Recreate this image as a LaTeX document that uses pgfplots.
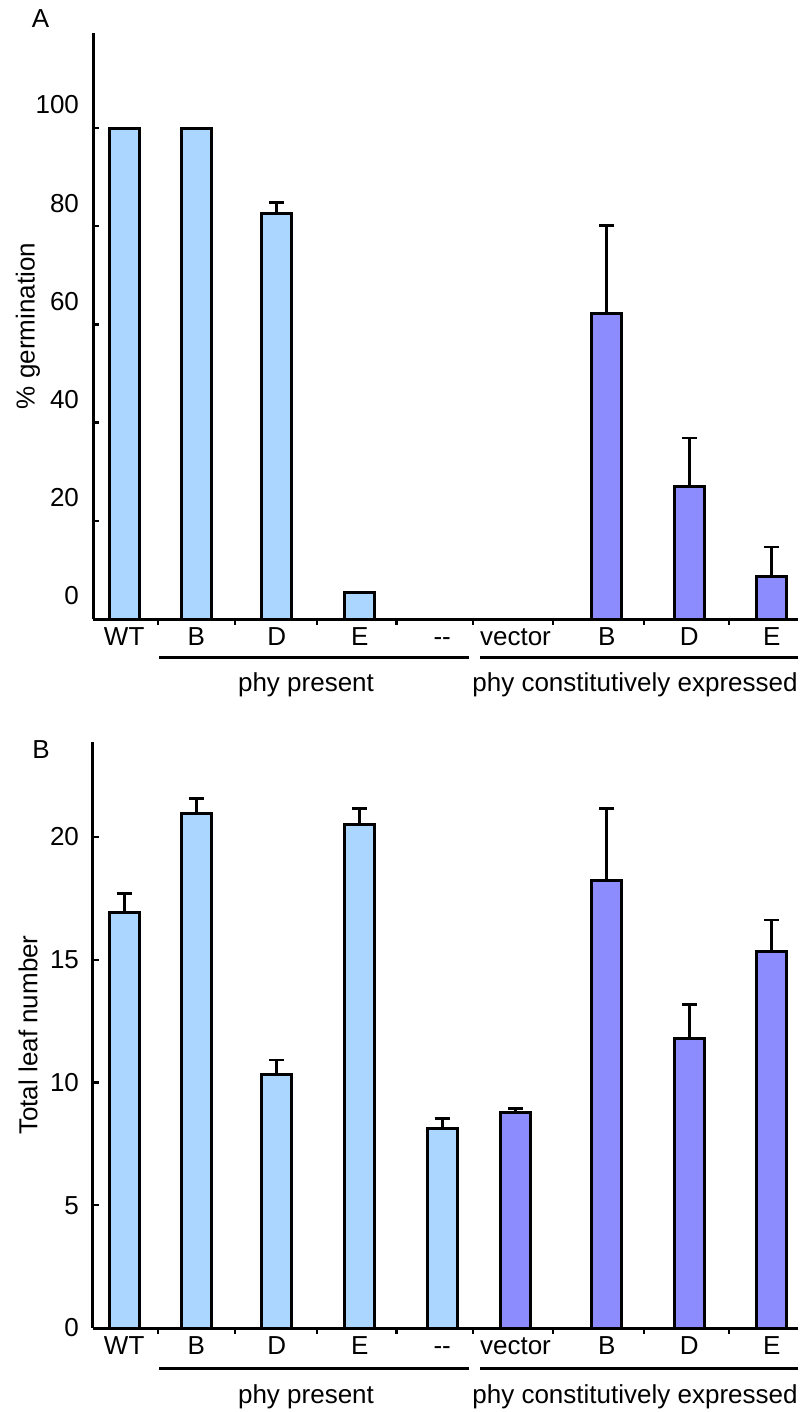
\documentclass[border=0pt]{standalone}
\usepackage{pgfplots}
\pgfplotsset{compat=1.18}
\usepackage{pgfplotstable}
\usepackage{fontspec}
\setmainfont{Liberation Sans}
\definecolor{lb}{RGB}{170,214,255}
\definecolor{pu}{RGB}{140,140,255}

% Panel A
\pgfplotstableread{
x y
124.2 100
196.3 100
359.7 5.4
}\AL
\pgfplotstableread{
x y e
276.7 82.5 2.3
}\ALE
\pgfplotstableread{
x y e
606.7 62.3 17.8
689.3 26.9 10.0
771.7 8.6 6.1
}\APE
% Panel B
\pgfplotstableread{
x y e
124.2 16.92 0.79
196.3 20.97 0.61
276.7 10.33 0.59
359.7 20.49 0.68
442.2 8.13 0.41
}\BLE
\pgfplotstableread{
x y e
515.5 8.77 0.18
606.7 18.22 2.95
689.3 11.80 1.38
771.7 15.33 1.29
}\BPE

\newcommand\fs{\fontsize{13}{15.6}\selectfont}

\pgfplotsset{
 base/.style={
  scale only axis, width=352.5pt, height=293pt,
  xmin=93, xmax=798, ymin=0,
  axis x line*=bottom, axis y line*=left,
  axis line style={-, line width=1.5pt, black},
  clip=false,
  ybar, bar width=30, bar shift=0pt,
  xtick={158,235,317,396.5,473,553,644,729},
  xticklabels={},
  xtick align=outside, ytick align=inside,
  major tick length=3pt,
  tick style={line width=1.2pt, black},
  extra x ticks={124.2,196.3,276.7,359.7,442.2,515.5,606.7,689.3,771.7},
  extra x tick labels={WT,B,D,E,{-{}-},vector,B,D,E},
  extra x tick style={major tick length=0pt, tick style={draw=none}},
  xticklabel style={anchor=base, yshift=-13pt},
  tick label style={font=\fs},
  yticklabel style={xshift=-3.5pt},
  label style={font=\fs},
  ylabel style={at={(axis description cs:-0.0922,0.5)}, anchor=center},
  /pgf/number format/assume math mode=true,
 },
 barL/.style={fill=lb, draw=black, line width=1.5pt},
 barP/.style={fill=pu, draw=black, line width=1.5pt},
 eb/.style={error bars/.cd, y dir=plus, y explicit,
   error bar style={line width=1.3pt, black},
   error mark options={rotate=90, mark size=3.75pt, line width=1.3pt, black}},
}

\begin{document}
\begin{tikzpicture}
\useasboundingbox (0,0) rectangle (400.5pt,-706pt);
\node[font=\fs] at (20.25pt,-9.5pt) {A};
\node[font=\fs] at (20.5pt,-375pt) {B};

\begin{axis}[base, at={(46.5pt,-309.5pt)}, anchor=south west,
  ymax=119.35, ytick={0,20,40,60,80,100},
  yticklabel style={yshift=11.5pt},
  ylabel={\% germination}]
\addplot[barL] table[x=x,y=y] \AL;
\addplot[barL, eb] table[x=x,y=y,y error=e] \ALE;
\addplot[barP, eb] table[x=x,y=y,y error=e] \APE;
\draw[line width=1.5pt] ([yshift=-19pt]axis cs:159,0) -- ([yshift=-19pt]axis cs:469,0);
\draw[line width=1.5pt] ([yshift=-19pt]axis cs:480,0) -- ([yshift=-19pt]axis cs:798,0);
\node[font=\fs] at ([yshift=-33pt]axis cs:306,0) {phy present};
\node[font=\fs] at ([yshift=-33pt]axis cs:635,0) {phy constitutively expressed};
\end{axis}

\begin{axis}[base, at={(46.5pt,-664pt)}, anchor=south west,
  ymax=23.87, ytick={0,5,10,15,20},
  ylabel={Total leaf number}]
\addplot[barL, eb] table[x=x,y=y,y error=e] \BLE;
\addplot[barP, eb] table[x=x,y=y,y error=e] \BPE;
\draw[line width=1.5pt] ([yshift=-20pt]axis cs:159,0) -- ([yshift=-20pt]axis cs:469,0);
\draw[line width=1.5pt] ([yshift=-20pt]axis cs:480,0) -- ([yshift=-20pt]axis cs:798,0);
\node[font=\fs] at ([yshift=-34.5pt]axis cs:306,0) {phy present};
\node[font=\fs] at ([yshift=-34.5pt]axis cs:635,0) {phy constitutively expressed};
\end{axis}
\end{tikzpicture}
\end{document}
